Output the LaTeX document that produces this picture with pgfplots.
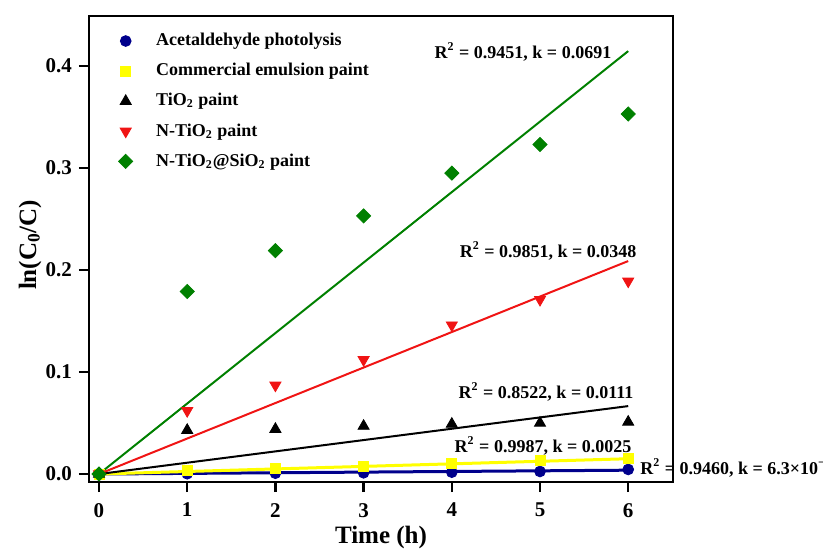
\documentclass[border=0pt]{standalone}
\usepackage{fontspec}
\setmainfont{Liberation Serif}
\usepackage{pgfplots}
\pgfplotsset{compat=1.18}
\definecolor{cnavy}{RGB}{0,0,140}
\definecolor{cyel}{RGB}{255,255,0}
\definecolor{cgreen}{RGB}{0,128,0}
\definecolor{cred}{RGB}{240,20,20}
\begin{document}
\begin{tikzpicture}
\begin{axis}[
 width=292pt, height=233pt, scale only axis,
 xmin=-0.1134, xmax=6.508, ymin=-0.00784, ymax=0.449,
 axis line style={line width=1.2pt},
 xtick={0,1,2,3,4,5,6}, ytick={0,0.1,0.2,0.3,0.4},
 xtick pos=bottom, ytick pos=left, tick align=outside,
 major tick length=5pt, major tick style={line width=1.2pt, black},
 /pgf/number format/assume math mode=true,
 yticklabel style={/pgf/number format/fixed,/pgf/number format/fixed zerofill,/pgf/number format/precision=1},
 ticklabel style={font=\fontsize{10.5}{12}\selectfont\bfseries},
 xticklabel style={yshift=-2pt},
 xlabel={Time (h)}, ylabel={ln(C\textsubscript{0}/C)},
 label style={font=\fontsize{12.5}{15}\selectfont\bfseries},
 xlabel style={at={(axis description cs:0.5,-0.12)},anchor=center},
 ylabel style={at={(axis description cs:-0.101,0.509)},anchor=center},
 clip=false,
 legend style={draw=none, fill=none, at={(axis description cs:0.017,0.981)}, anchor=north west,
   font=\fontsize{9}{11}\selectfont\bfseries, row sep=3.3pt},
 legend cell align=left,
 legend image code/.code={\path (0pt,0pt) (23pt,0pt); \draw[#1, only marks] plot coordinates {(10pt,0pt)};},
]
% fitted lines
\addplot[cnavy, line width=1.5pt, forget plot] coordinates {(0,0) (6,0.00378)};
\addplot[cyel, line width=1.5pt, forget plot] coordinates {(0,0) (6,0.015)};
\addplot[black, line width=1pt, forget plot] coordinates {(0,0) (6,0.0666)};
\addplot[cred, line width=1pt, forget plot] coordinates {(0,0) (6,0.2088)};
\addplot[cgreen, line width=1pt, forget plot] coordinates {(0,0) (6,0.4146)};
% data
\addplot[only marks, mark=*, mark size=2.7pt, color=cnavy] coordinates {(0,0) (1,0.0003) (2,0.0008) (3,0.0012) (4,0.0018) (5,0.0025) (6,0.0045)};
\addlegendentry{Acetaldehyde photolysis}
\addplot[only marks, mark=square*, mark size=2.5pt, color=cyel] coordinates {(0,0) (1,0.0035) (2,0.0059) (3,0.0077) (4,0.0104) (5,0.0129) (6,0.0157)};
\addlegendentry{Commercial emulsion paint}
\addplot[only marks, mark=triangle*, mark size=3.2pt, color=black] coordinates {(0,0) (1,0.043) (2,0.044) (3,0.047) (4,0.049) (5,0.050) (6,0.051)};
\addlegendentry{TiO\textsubscript{2} paint}
\addplot[only marks, mark=triangle*, mark size=3.2pt, color=cred, mark options={rotate=180}] coordinates {(0,0) (1,0.062) (2,0.087) (3,0.112) (4,0.146) (5,0.171) (6,0.189)};
\addlegendentry{N-TiO\textsubscript{2} paint}
\addplot[only marks, mark=square*, mark size=2.5pt, color=cgreen, mark options={rotate=45}] coordinates {(0,0) (1,0.179) (2,0.219) (3,0.253) (4,0.295) (5,0.323) (6,0.353)};
\addlegendentry{N-TiO\textsubscript{2}@SiO\textsubscript{2} paint}
% annotations
\node[font=\fontsize{9}{11}\selectfont\bfseries] at (axis cs:4.807,0.4137) {R\textsuperscript{2} = 0.9451, k = 0.0691};
\node[font=\fontsize{9}{11}\selectfont\bfseries] at (axis cs:5.091,0.2186) {R\textsuperscript{2} = 0.9851, k = 0.0348};
\node[font=\fontsize{9}{11}\selectfont\bfseries] at (axis cs:5.068,0.0804) {R\textsuperscript{2} = 0.8522, k = 0.0111};
\node[font=\fontsize{9}{11}\selectfont\bfseries] at (axis cs:5.034,0.0275) {R\textsuperscript{2} = 0.9987, k = 0.0025};
\node[font=\fontsize{9}{11}\selectfont\bfseries, anchor=west, inner sep=0pt] at (axis cs:6.134,0.0059) {R\textsuperscript{2} = 0.9460, k = 6.3×10\textsuperscript{−4}};
\coordinate (bbll) at (axis cs:-1.1224,-0.07255);
\coordinate (bbur) at (axis cs:8.2086,0.4647);
\end{axis}
\pgfresetboundingbox
\path[use as bounding box] (bbll) rectangle (bbur);
\end{tikzpicture}
\end{document}
